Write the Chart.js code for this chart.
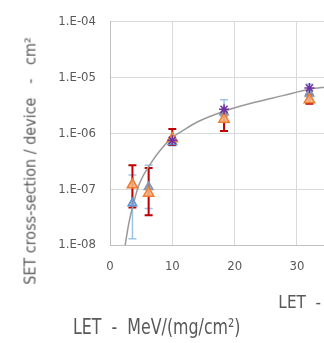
<!DOCTYPE html>
<html>
<head>
<meta charset="utf-8">
<script src="https://cdn.jsdelivr.net/npm/chart.js@4.4.0/dist/chart.umd.min.js"></script>
<style>
  html, body { margin: 0; padding: 0; background: #fff; overflow: hidden; width: 324px; height: 343px; }
  #wrap { position: absolute; left: 0; top: 0; width: 630px; height: 318px; }
  .txt { position: absolute; font-family: 'DejaVu Sans Condensed', sans-serif; color: #595959; white-space: pre; }
  #caption { left: 73px; top: 314px; font-size: 22px; transform-origin: 0 0; transform: scaleX(0.8); }
  #ytitle { left: 30px; top: 161px; font-size: 16px; transform: translate(-50%, -50%) rotate(-90deg); }
</style>
</head>
<body>
<div id="wrap"><canvas id="c"></canvas></div>
<div id="ytitle" class="txt">SET cross-section / device   -   cm²</div>
<div id="caption" class="txt">LET  -  MeV/(mg/cm²)</div>
<script>
// tick labels
var yTicks = [1e-8, 1e-7, 1e-6, 1e-5, 1e-4];
var xTicks = [0, 10, 20, 30, 40, 50, 60, 70, 80];

// blue triangles (light blue error bars)
var blueX  = [3.6, 10];
var blueY  = [5.6e-8, 7.0e-7];
var blueLo = [1.3e-8, 6.0e-7];
var blueHi = [1.8e-7, 8.5e-7];

// grey-blue triangles
var greyX  = [6.2, 18.3, 32];
var greyY  = [1.1e-7, 2.4e-6, 5.2e-6];
var greyLo = [4.5e-8, 2.0e-6, 4.5e-6];
var greyHi = [2.7e-7, 4.0e-6, 7.6e-6];

// orange triangles (red error bars)
var orangeX  = [3.6, 6.2, 10, 18.3, 32];
var orangeY  = [1.2e-7, 8.5e-8, 8.0e-7, 1.8e-6, 4.0e-6];
var orangeLo = [4.7e-8, 3.4e-8, 6.2e-7, 1.1e-6, 3.4e-6];
var orangeHi = [2.7e-7, 2.4e-7, 1.2e-6, 2.2e-6, 5.0e-6];

// purple stars
var starX = [10, 18.3, 32];
var starY = [7.5e-7, 2.7e-6, 6.5e-6];

// fitted curve
var fitX = [2.3, 2.6, 3.0, 3.6, 4.65, 6.7, 8.2, 10, 11.3, 14, 18.3, 22.8, 27.9, 32, 35];
var fitY = [8e-9, 1.3e-8, 2.4e-8, 4.7e-8, 1.2e-7, 3.1e-7, 5.2e-7, 8.5e-7, 1.05e-6, 1.6e-6, 2.5e-6, 3.5e-6, 4.8e-6, 6.2e-6, 6.8e-6];

function pts(xs, ys) { return xs.map(function(x, i) { return { x: x, y: ys[i] }; }); }

var FONT = "'DejaVu Sans Condensed', sans-serif";

// error bars drawn through the chart scales
var errorBars = {
  id: 'errorBars',
  beforeDatasetsDraw: function(chart) {
    var ctx = chart.ctx, xs = chart.scales.x, ys = chart.scales.y;
    ctx.save();
    ctx.beginPath();
    ctx.rect(chart.chartArea.left, chart.chartArea.top - 2, chart.chartArea.width, chart.chartArea.height + 4);
    ctx.clip();
    chart.data.datasets.forEach(function(ds) {
      if (!ds.errLo) return;
      ctx.strokeStyle = ds.errColor;
      ctx.lineWidth = ds.errWidth || 2;
      ds.data.forEach(function(p, i) {
        var px = xs.getPixelForValue(p.x);
        var lo = ys.getPixelForValue(ds.errLo[i]);
        var hi = ys.getPixelForValue(ds.errHi[i]);
        ctx.beginPath();
        ctx.moveTo(px, lo); ctx.lineTo(px, hi);
        ctx.moveTo(px - 4, lo); ctx.lineTo(px + 4, lo);
        ctx.moveTo(px - 4, hi); ctx.lineTo(px + 4, hi);
        ctx.stroke();
      });
    });
    ctx.restore();
  }
};

new Chart(document.getElementById('c'), {
  type: 'scatter',
  data: {
    datasets: [
      {
        label: 'fit', data: pts(fitX, fitY), showLine: true,
        borderColor: '#999999', borderWidth: 1.5, pointRadius: 0,
        cubicInterpolationMode: 'monotone', order: 5
      },
      {
        label: 'blue', data: pts(blueX, blueY), pointStyle: 'triangle', pointRadius: 5,
        backgroundColor: 'rgba(143,170,220,0.8)', borderColor: '#5b9bd5', borderWidth: 1.5,
        errLo: blueLo, errHi: blueHi, errColor: '#9dc3e6', errWidth: 1.5, order: 3
      },
      {
        label: 'grey', data: pts(greyX, greyY), pointStyle: 'triangle', pointRadius: 5,
        backgroundColor: 'rgba(132,151,176,0.8)', borderColor: '#8497b0', borderWidth: 1.5,
        errLo: greyLo, errHi: greyHi, errColor: '#9dc3e6', errWidth: 1.5, order: 3
      },
      {
        label: 'orange', data: pts(orangeX, orangeY), pointStyle: 'triangle', pointRadius: 6,
        backgroundColor: 'rgba(244,177,131,0.9)', borderColor: '#ed7d31', borderWidth: 1.5,
        errLo: orangeLo, errHi: orangeHi, errColor: '#c00000', errWidth: 2, order: 2
      },
      {
        label: 'star', data: pts(starX, starY), pointStyle: 'star', pointRadius: 5,
        borderColor: '#7030a0', borderWidth: 1.5, order: 1
      }
    ]
  },
  options: {
    responsive: true,
    maintainAspectRatio: false,
    animation: false,
    layout: { padding: { top: 4, left: 0, right: 4, bottom: 0 } },
    plugins: { legend: { display: false }, tooltip: { enabled: false } },
    scales: {
      x: {
        type: 'linear', min: 0, max: 80,
        afterBuildTicks: function(s) { s.ticks = xTicks.map(function(v) { return { value: v }; }); },
        ticks: { color: '#595959', font: { family: FONT, size: 13 }, padding: 14 },
        grid: { color: '#d9d9d9', drawTicks: false },
        border: { color: '#bfbfbf' },
        title: { display: true, text: 'LET  -  MeV/(mg/cm²)', color: '#595959', font: { family: FONT, size: 17 }, padding: { top: 5 } }
      },
      y: {
        type: 'logarithmic', min: 1e-8, max: 1e-4,
        afterBuildTicks: function(s) { s.ticks = yTicks.map(function(v) { return { value: v }; }); },
        afterFit: function(s) { s.width = 110; },
        ticks: {
          color: '#595959', font: { family: FONT, size: 13 }, padding: 14,
          callback: function(v) { return '1.E-0' + Math.round(-Math.log10(v)); }
        },
        grid: { color: '#d9d9d9', drawTicks: false },
        border: { color: '#bfbfbf' }
      }
    }
  },
  plugins: [errorBars]
});
</script>
</body>
</html>
